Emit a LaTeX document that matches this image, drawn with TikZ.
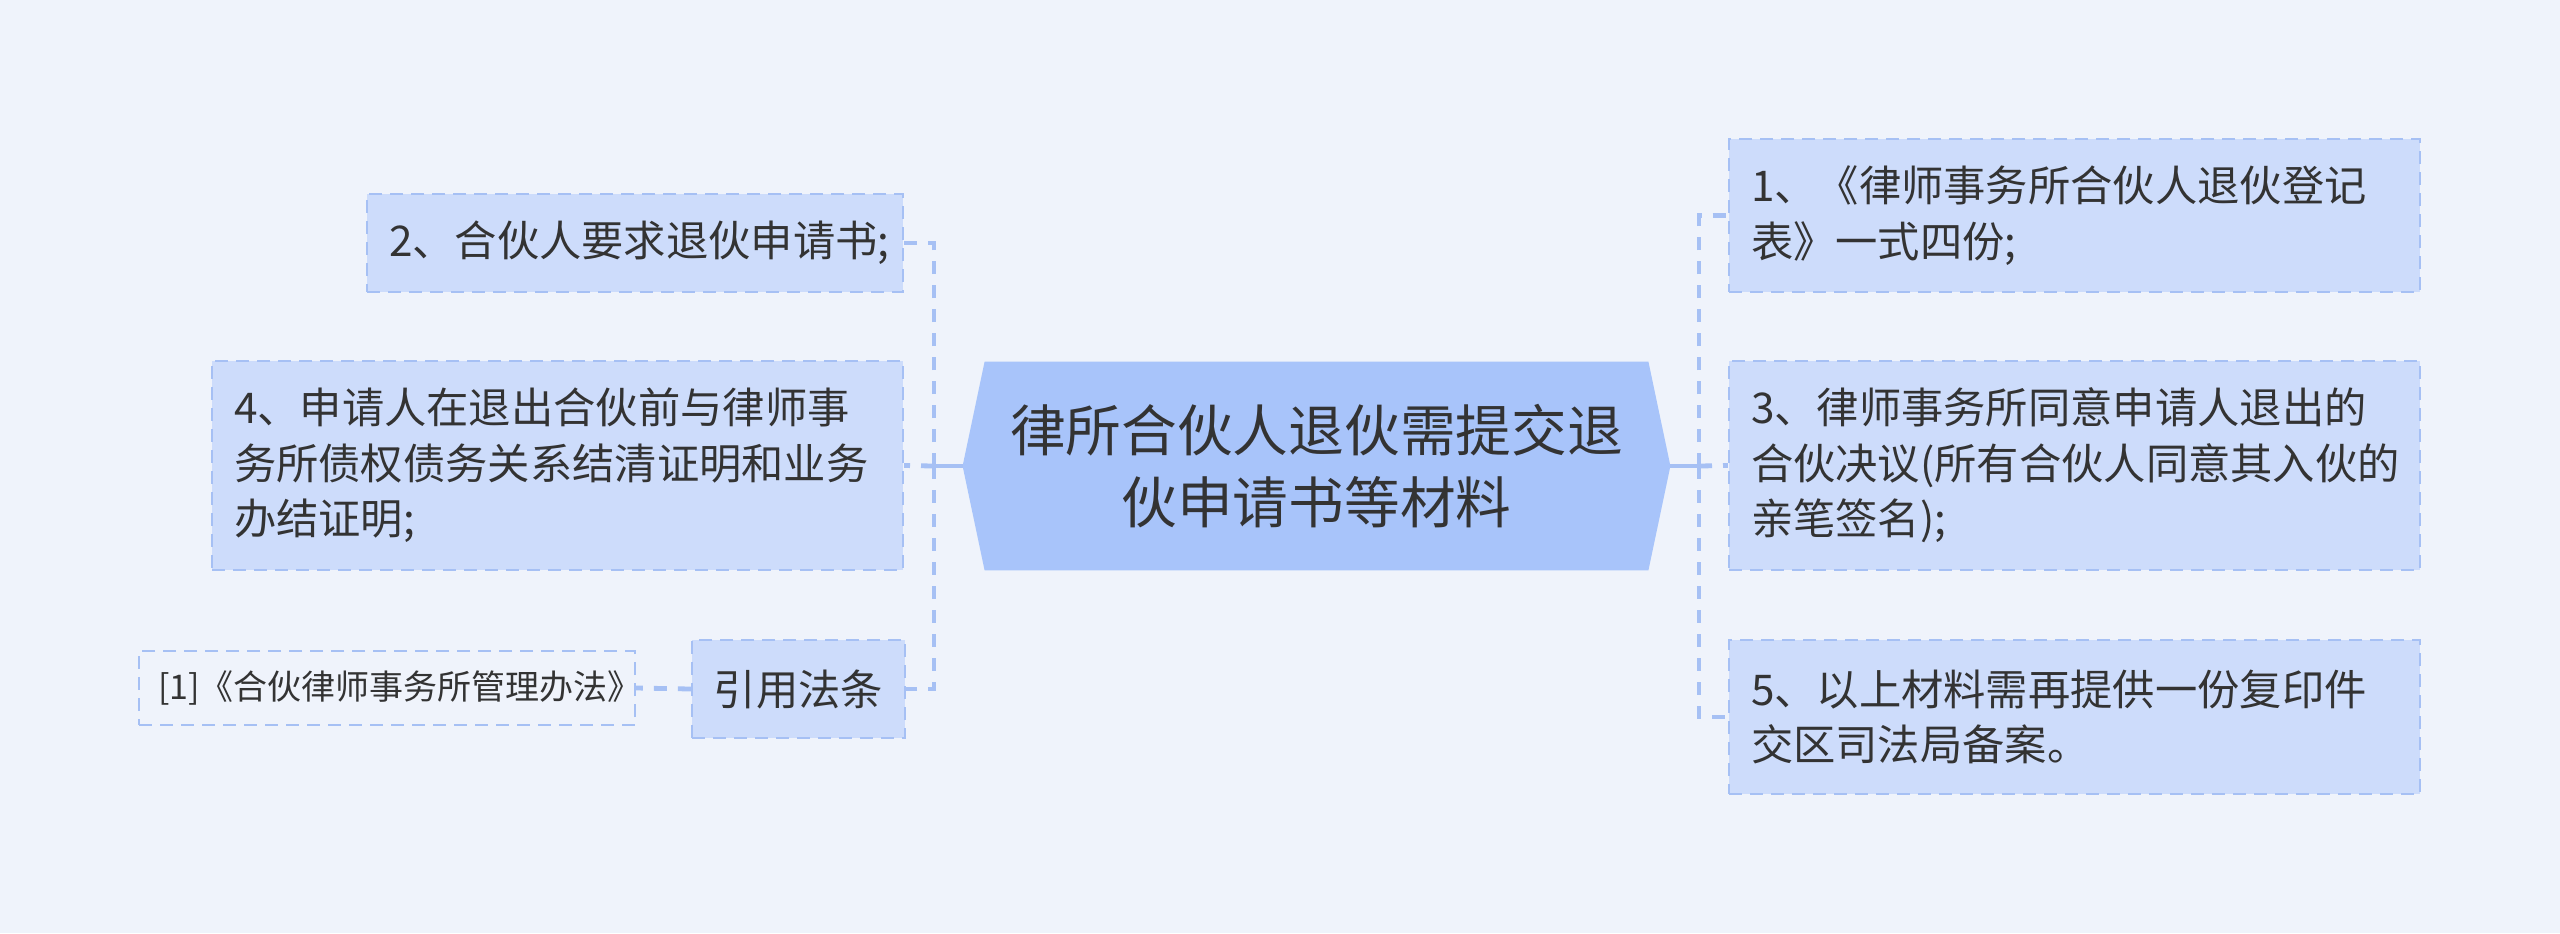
\documentclass[tikz,border=0pt]{standalone}
\usepackage{fontspec}
\setmainfont{Noto Sans CJK SC}
\usetikzlibrary{backgrounds}
\definecolor{bgc}{RGB}{239,243,251}
\definecolor{mainc}{RGB}{168,196,250}
\definecolor{subc}{RGB}{205,220,251}
\definecolor{linec}{RGB}{166,192,244}
\definecolor{txtc}{RGB}{51,51,51}
\begin{document}
\begin{tikzpicture}[x=0.5pt,y=-0.5pt,
  box/.style={draw=linec, fill=subc, dash pattern=on 6.5pt off 4pt, line width=1.1pt,
    inner xsep=11pt, inner ysep=0pt, align=left, text=txtc,
    font=\fontsize{21.15pt}{27.75pt}\selectfont},
  refbox/.style={box, fill=none, inner xsep=9.5pt, font=\fontsize{17pt}{22pt}\selectfont},
  mainbox/.style={inner sep=0pt, align=center, text=txtc, minimum width=353.5pt, minimum height=104pt,
    font=\fontsize{27.85pt}{36pt}\selectfont},
  conn/.style={draw=linec, line width=2.4pt, dash pattern=on 6.5pt off 5.5pt},
  solidconn/.style={draw=linec, line width=2.4pt}]
\useasboundingbox (0,0) rectangle (2560,933);
\begin{scope}[on background layer]
\fill[bgc] (0,0) rectangle (2560,933);
\end{scope}
\node[mainbox] (c) at (1316.5,466) {律所合伙人退伙需提交退\\伙申请书等材料};
\begin{scope}[on background layer]
\fill[mainc] (c.west) -- ([xshift=11pt]c.north west) -- ([xshift=-11pt]c.north east) -- (c.east)
  -- ([xshift=-11pt]c.south east) -- ([xshift=11pt]c.south west) -- cycle;
\end{scope}
% left
\node[box, text width=246pt, minimum height=49pt] (b2) at (635,243) {2、合伙人要求退伙申请书;};
\node[box, text width=323.5pt, minimum height=104.5pt] (b4) at (557.5,465.5) {4、申请人在退出合伙前与律师事\\务所债权债务关系结清证明和业务\\办结证明;};
\node[box, align=center, minimum width=104.5pt, minimum height=49pt] (law) at (798.5,689) {引用法条};
\node[refbox, text width=229pt, minimum height=37pt] (ref) at (387,688) {[1]《合伙律师事务所管理办法》};
% right
\node[box, text width=323.5pt, minimum height=76.5pt] (r1) at (2074.5,215.5) {1、《律师事务所合伙人退伙登记\\表》一式四份;};
\node[box, text width=323.5pt, minimum height=104.5pt] (r3) at (2074.5,465.5) {3、律师事务所同意申请人退出的\\合伙决议(所有合伙人同意其入伙的\\亲笔签名);};
\node[box, text width=323.5pt, minimum height=77pt] (r5) at (2074.5,717) {5、以上材料需再提供一份复印件\\交区司法局备案。};
% junctions
\coordinate (lj) at (934,466);
\coordinate (rj) at (1699,466);
\draw[conn] (lj) |- (b2.east);
\draw[conn] (lj) -- (b4.east);
\draw[conn] (lj) |- (law.east);
\draw[conn] (rj) |- (r1.west);
\draw[conn] (rj) -- (r3.west);
\draw[conn] (rj) |- (r5.west);
\draw[conn] (law.west) -- (ref.east);
\draw[solidconn] (c.west) -- ([xshift=-6pt]lj);
\draw[solidconn] (c.east) -- ([xshift=6pt]rj);
\end{tikzpicture}
\end{document}
